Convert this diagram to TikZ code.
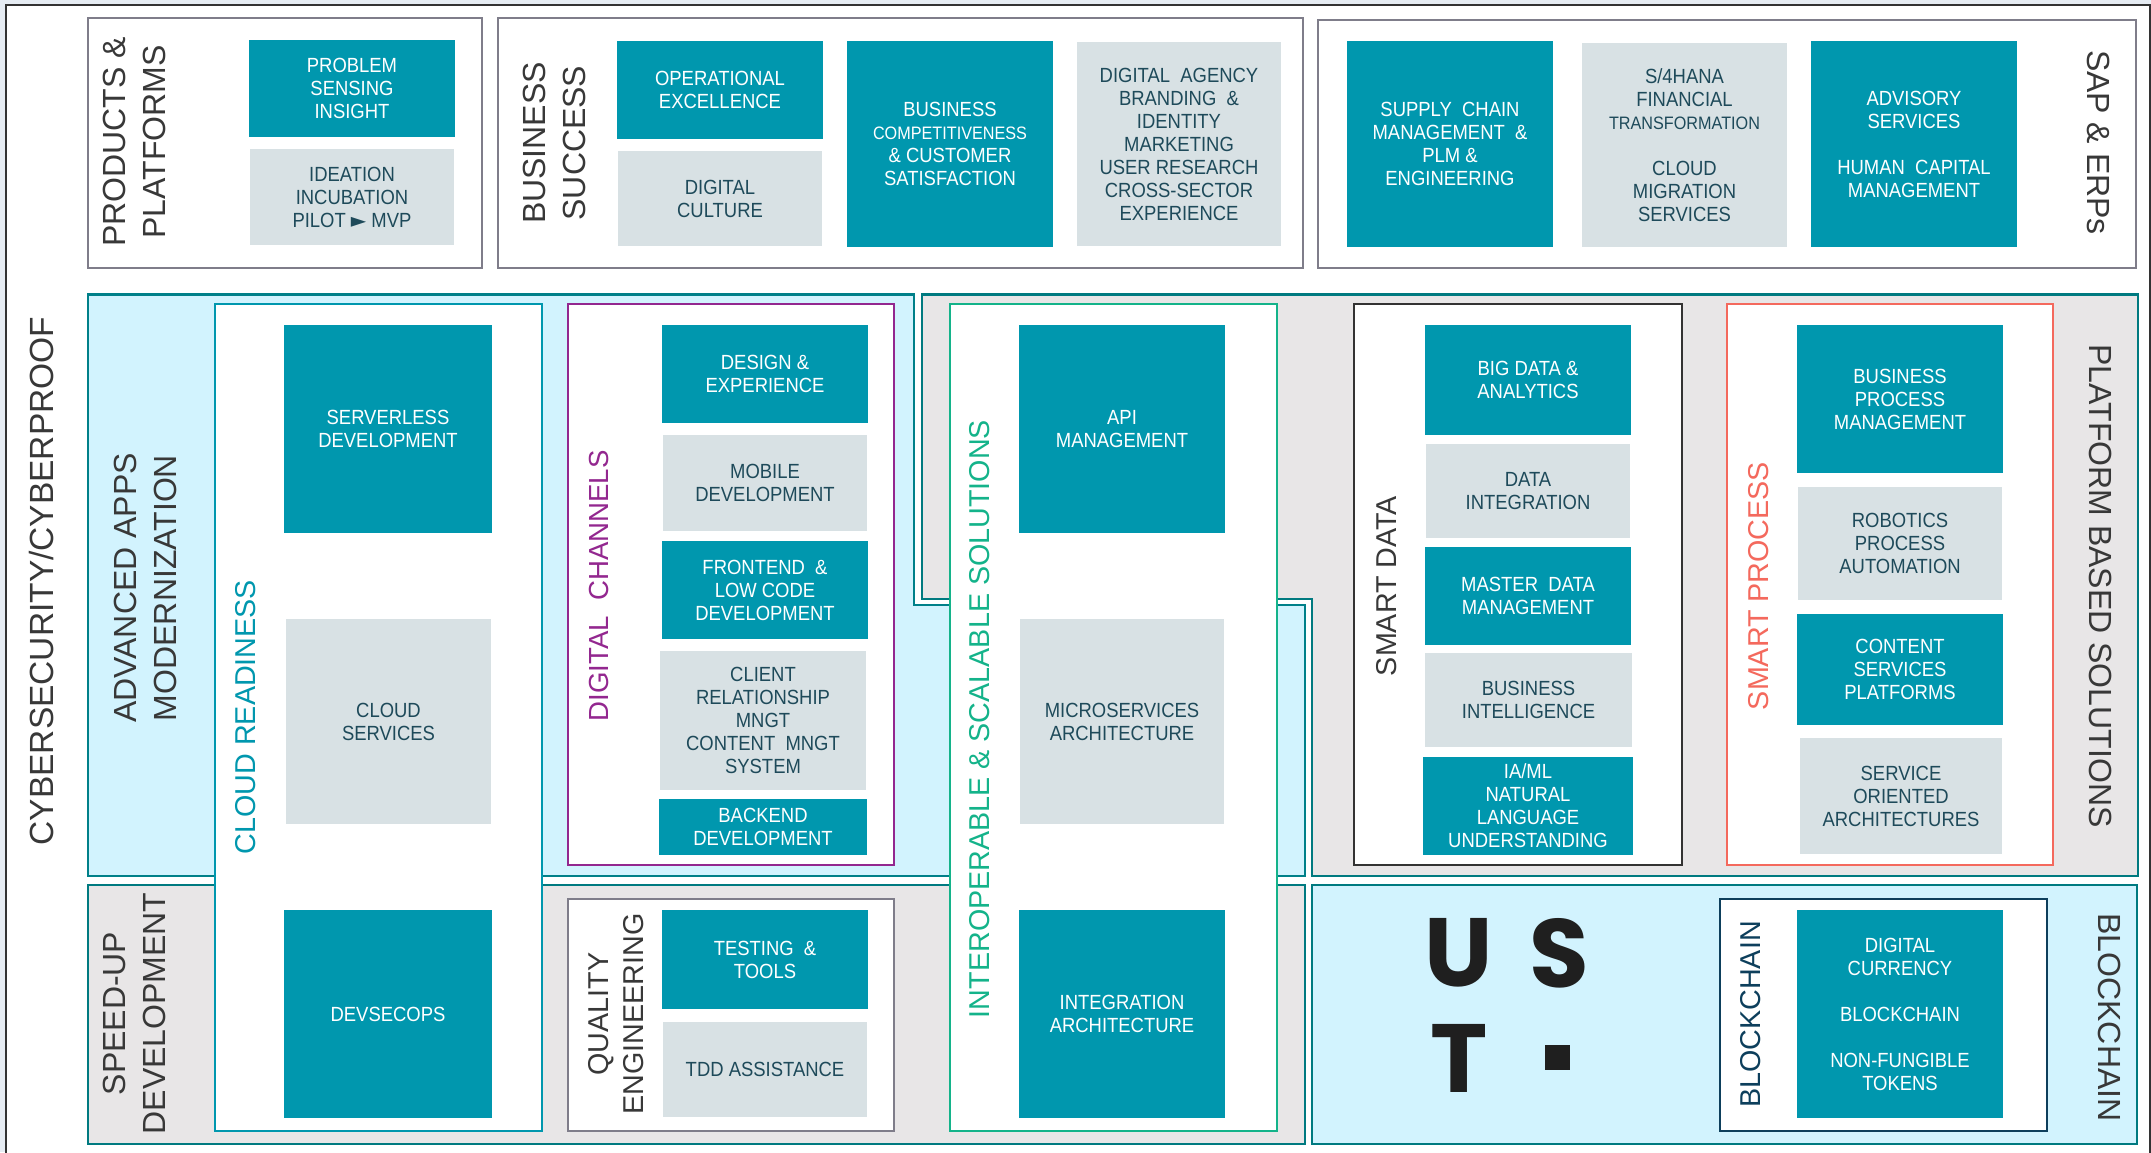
\documentclass[tikz,border=0pt]{standalone}
\usepackage{fontspec}
\usepackage{xcolor}
\setmainfont[FakeStretch=0.9]{Liberation Sans}
\newfontfamily\sidefont{Liberation Sans}
\newfontfamily\logofont{Poppins}
\newfontfamily\markfont{DejaVu Sans}
\definecolor{ustteal}{HTML}{0097AE}
\definecolor{ustgray}{HTML}{D8E1E4}
\definecolor{ustink}{HTML}{1E4A5A}
\definecolor{ustblue}{HTML}{D2F3FE}
\definecolor{ustzone}{HTML}{E8E6E7}
\definecolor{ustedge}{HTML}{007A80}
\definecolor{ustframe}{HTML}{7F7D8A}
\definecolor{ustpage}{HTML}{E6ECF3}
\definecolor{sidetext}{HTML}{383838}
\definecolor{cloudcol}{HTML}{0097AE}
\definecolor{channelcol}{HTML}{93278F}
\definecolor{scalecol}{HTML}{14B38A}
\definecolor{processcol}{HTML}{F4695D}
\definecolor{chaincol}{HTML}{0D3F5C}
\tikzset{
    box size/.style 2 args={minimum width=#1pt, minimum height=#2pt}, % width and height in picture pixels
    card/.style={rectangle, inner sep=0pt, align=center, font=\fontsize{20.5}{23}\selectfont},
    tealcard/.style={card, fill=ustteal, text=white},
    graycard/.style={card, fill=ustgray, text=ustink},
    panel/.style={rectangle, inner sep=0pt, fill=white, line width=2pt},
    zone/.style={rectangle, inner sep=0pt, draw=ustedge, line width=2.5pt},
    sidelabel/.style={inner sep=0pt, align=center, text=sidetext, font=\sidefont\fontsize{32}{40}\selectfont},
    up/.style={rotate=90},
    down/.style={rotate=-90},
    paneltext/.style={sidelabel, font=\sidefont\fontsize{28.7}{35}\selectfont},
    logoletter/.style={inner sep=0pt, text=black!88, font=\logofont\bfseries\fontsize{97}{97}\selectfont},
}
\newcommand{\smalltext}[1]{{\fontsize{18}{23}\selectfont #1}}
\begin{document}
\begin{tikzpicture}[x=1pt, y=-1pt]
    \useasboundingbox (0,0) rectangle (2151,1152);
    % Page
    \fill[ustpage] (0,0) rectangle (2151,1152);
    \draw[fill=white, draw=black!80, line width=2.5pt] (6,5) -- (2150,5) -- (2150,1156) -- (6,1156) -- cycle;

    % Zones
    \draw[fill=ustblue, draw=ustedge!80!cloudcol, line width=2.5pt] (88,294.5) -- (914,294.5) -- (914,605) -- (1305,605) -- (1305,876) -- (88,876) -- cycle;
    \draw[fill=ustzone, draw=ustedge, line width=2.5pt] (922,294.5) -- (2138,294.5) -- (2138,876) -- (1312,876) -- (1312,599) -- (922,599) -- cycle;
    \node[zone, fill=ustzone, box size={1217}{259}] (speedzone) at (696.5,1014.5) {};
    \node[zone, fill=ustblue, box size={825}{259}] (chainzone) at (1724.5,1014.5) {};

    % Top groups
    \node[panel, draw=ustframe, box size={394}{249.5}] (products) at (285,142.75) {};
    \node[panel, draw=ustframe, box size={805}{249.5}] (success) at (900.5,142.75) {};
    \node[panel, draw=ustframe, box size={818}{248}] (erps) at (1727,143.5) {};

    % Panels
    \node[panel, draw=cloudcol, box size={327.5}{827}] (cloud) at (378.25,717.5) {};
    \node[panel, draw=channelcol, box size={326.5}{560.5}] (channels) at (730.75,584.25) {};
    \node[panel, draw=ustframe, box size={326.5}{232}] (quality) at (730.75,1015) {};
    \node[panel, draw=scalecol, box size={327.5}{827}] (scalable) at (1113.25,717.5) {};
    \node[panel, draw=black!80, box size={328}{560.5}] (smartdata) at (1518,584.25) {};
    \node[panel, draw=processcol, box size={326}{560.5}] (smartproc) at (1890,584.25) {};
    \node[panel, draw=chaincol, box size={327.5}{232}] (chainpanel) at (1883.25,1015) {};

    % Cards
    \node[tealcard, box size={206}{97}] (problem) at (352,88.5) {PROBLEM\\SENSING\\INSIGHT};
    \node[graycard, box size={204}{96}] (ideation) at (352,197) {IDEATION\\INCUBATION\\PILOT {\markfont\fontsize{20}{23}\selectfont ►} MVP};
    \node[tealcard, box size={206}{98}] (operational) at (720,90) {OPERATIONAL\\EXCELLENCE};
    \node[graycard, box size={204}{95}] (culture) at (720,198.5) {DIGITAL\\CULTURE};
    \node[tealcard, box size={206}{206}] (competitive) at (950,144) {BUSINESS\\\smalltext{COMPETITIVENESS}\\\& CUSTOMER\\SATISFACTION};
    \node[graycard, box size={204}{204}] (agency) at (1179,144) {DIGITAL\ \ AGENCY\\BRANDING\ \ \&\\IDENTITY\\MARKETING\\USER RESEARCH\\CROSS-SECTOR\\EXPERIENCE};
    \node[tealcard, box size={206.5}{206}] (supply) at (1450,144) {SUPPLY\ \ CHAIN\\MANAGEMENT\ \ \&\\PLM \&\\ENGINEERING};
    \node[graycard, box size={205}{204}] (hana) at (1684.5,145) {S/4HANA\\FINANCIAL\\\smalltext{TRANSFORMATION}\\[23pt]CLOUD\\MIGRATION\\SERVICES};
    \node[tealcard, box size={206}{206}] (advisory) at (1914,144) {ADVISORY\\SERVICES\\[23pt]HUMAN\ \ CAPITAL\\MANAGEMENT};

    \node[tealcard, box size={207.5}{208}] (serverless) at (388,429) {SERVERLESS\\DEVELOPMENT};
    \node[graycard, box size={205}{205}] (services) at (388.5,721.5) {CLOUD\\SERVICES};
    \node[tealcard, box size={207.5}{208}] (devsecops) at (388,1014) {DEVSECOPS};

    \node[tealcard, box size={206.5}{98}] (design) at (765,374) {DESIGN \&\\EXPERIENCE};
    \node[graycard, box size={203.5}{96}] (mobile) at (765,482.5) {MOBILE\\DEVELOPMENT};
    \node[tealcard, box size={206.5}{98}] (frontend) at (765,590) {FRONTEND\ \ \&\\LOW CODE\\DEVELOPMENT};
    \node[graycard, box size={206}{139}] (client) at (763,720.5) {CLIENT\\RELATIONSHIP\\MNGT\\CONTENT\ \ MNGT\\SYSTEM};
    \node[tealcard, box size={207.5}{56.5}] (backend) at (763,827) {BACKEND\\DEVELOPMENT};
    \node[tealcard, box size={206.5}{99}] (testing) at (765,959.5) {TESTING\ \ \&\\TOOLS};
    \node[graycard, box size={203.5}{95.5}] (tdd) at (765,1069.5) {TDD ASSISTANCE};

    \node[tealcard, box size={206}{208}] (api) at (1122,429) {API\\MANAGEMENT};
    \node[graycard, box size={204}{205}] (micro) at (1122,721.5) {MICROSERVICES\\ARCHITECTURE};
    \node[tealcard, box size={206}{208}] (integration) at (1122,1014) {INTEGRATION\\ARCHITECTURE};

    \node[tealcard, box size={206}{109.5}] (bigdata) at (1528,380) {BIG DATA \&\\ANALYTICS};
    \node[graycard, box size={204.5}{94.5}] (dataint) at (1528,491) {DATA\\INTEGRATION};
    \node[tealcard, box size={206}{98}] (master) at (1528,595.5) {MASTER\ \ DATA\\MANAGEMENT};
    \node[graycard, box size={206.5}{94.5}] (bi) at (1528.5,700) {BUSINESS\\INTELLIGENCE};
    \node[tealcard, box size={210}{98}] (iaml) at (1528,806) {IA/ML\\NATURAL\\LANGUAGE\\UNDERSTANDING};

    \node[tealcard, box size={206}{148}] (bpm) at (1900,399) {BUSINESS\\PROCESS\\MANAGEMENT};
    \node[graycard, box size={204}{113}] (rpa) at (1900,543.5) {ROBOTICS\\PROCESS\\AUTOMATION};
    \node[tealcard, box size={206}{111}] (content) at (1900,669) {CONTENT\\SERVICES\\PLATFORMS};
    \node[graycard, box size={202}{116}] (soa) at (1901,796) {SERVICE\\ORIENTED\\ARCHITECTURES};
    \node[tealcard, box size={206}{208}] (currency) at (1900,1014) {DIGITAL\\CURRENCY\\[23pt]BLOCKCHAIN\\[23pt]NON-FUNGIBLE\\TOKENS};

    % Side labels
    \node[sidelabel, up, font=\sidefont\fontsize{33.5}{40}\selectfont] (cyber) at (42,581) {CYBERSECURITY/CYBERPROOF};
    \node[sidelabel, up] (prodlabel) at (134,142) {PRODUCTS \&\\PLATFORMS};
    \node[sidelabel, up] (succlabel) at (554,143) {BUSINESS\\SUCCESS};
    \node[sidelabel, down] (saplabel) at (2098.5,142.5) {SAP \& ERPs};
    \node[sidelabel, up] (advlabel) at (145,588) {ADVANCED APPS\\MODERNIZATION};
    \node[sidelabel, up] (speedlabel) at (134,1013.5) {SPEED-UP\\DEVELOPMENT};
    \node[sidelabel, down] (platlabel) at (2100,586) {PLATFORM BASED SOLUTIONS};
    \node[sidelabel, down] (chainlabel) at (2109,1017.5) {BLOCKCHAIN};

    % Panel labels
    \node[paneltext, up, text=cloudcol] (cloudlabel) at (245.5,717) {CLOUD READINESS};
    \node[paneltext, up, text=channelcol, font=\sidefont\fontsize{27.6}{35}\selectfont] (channellabel) at (599,586) {DIGITAL\ \ CHANNELS};
    \node[paneltext, up] (qualitylabel) at (616,1014) {QUALITY\\ENGINEERING};
    \node[paneltext, up, text=scalecol] (scalelabel) at (980,719) {INTEROPERABLE \& SCALABLE SOLUTIONS};
    \node[paneltext, up] (datalabel) at (1387,586) {SMART DATA};
    \node[paneltext, up, text=processcol] (proclabel) at (1759,586) {SMART PROCESS};
    \node[paneltext, up, text=chaincol] (blocklabel) at (1751,1014.5) {BLOCKCHAIN};

    % Logo
    \node[logoletter] (logou) at (1459,953) {U};
    \node[logoletter] (logos) at (1559,953) {S};
    \node[logoletter] (logot) at (1459,1058) {T};
    \node[rectangle, inner sep=0pt, fill=black!88, box size={25}{25}] (logodot) at (1557.5,1057.5) {};
\end{tikzpicture}
\end{document}
